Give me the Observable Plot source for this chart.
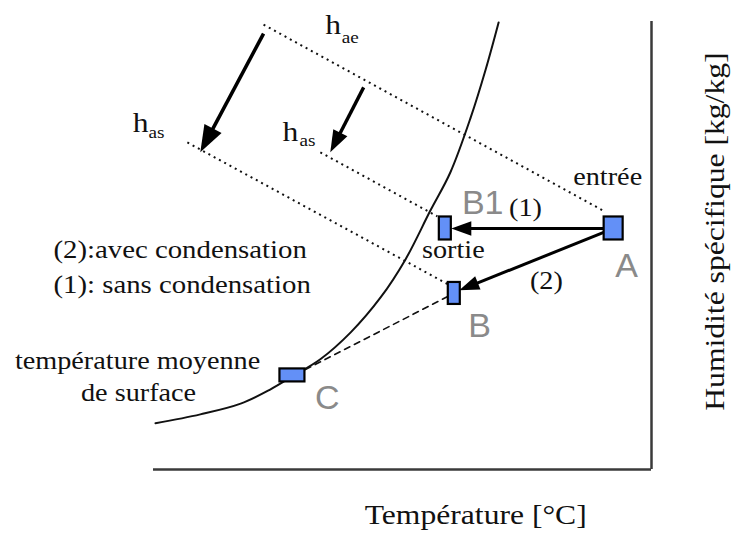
<!DOCTYPE html>
<html><head><meta charset="utf-8">
<script src="https://cdn.jsdelivr.net/npm/d3@7"></script>
<script src="https://cdn.jsdelivr.net/npm/@observablehq/plot@0.6"></script>
<style>html,body{margin:0;padding:0;background:#fff}</style>
</head><body><div id="chart"></div>
<script>
// ---------------- data (schematic units: temperature 0–100, humidity 0–100) ----------------
// saturation curve
const curveT = [0.4, 9.4, 17.5, 23.5, 27.9, 33.5, 39.6, 45.6, 50.6, 55.6, 59.6, 63.7, 66.7, 69.3];
const curveH = [10.3, 12.3, 14.7, 17.9, 20.8, 24.6, 30.6, 38.4, 46.9, 57.8, 66.3, 78.6, 89.3, 99.8];

// air states
const stateNames = ["A", "B1", "B", "C"];
const stateT = [92.4, 58.6, 60.4, 27.9];
const stateH = [53.8, 53.8, 39.3, 21.0];
const stateLabelT = [95.0, 66.1, 65.5, 34.9];
const stateLabelH = [42.9, 57.1, 29.5, 13.4];

// iso-enthalpy (dotted) lines
const isoT1 = [22.1, 6.8, 33.5];
const isoH1 = [99.3, 73.0, 70.8];
const isoT2 = [90.6, 59.2, 57.0];
const isoH2 = [57.6, 41.3, 56.5];

// dashed line C -> B
const dashT = [30.5, 59.4];
const dashH = [22.3, 38.8];

// arrows
const arrowT1 = [22.1, 42.2, 92.4, 92.4];
const arrowH1 = [97.3, 85.3, 53.8, 53.8];
const arrowT2 = [9.4, 35.5, 59.8, 61.4];
const arrowH2 = [70.8, 70.8, 53.8, 40.0];

// enthalpy labels h + subscript
const hSub = ["ae", "as", "as"];
const hT = [36.1, -2.6, 27.5];
const hH = [97.3, 75.4, 73.4];
const hSubT = [37.8, -1.0, 29.3];
const hSubH = [95.3, 74.1, 72.1];

// notes
const leftNotes = ["(2):avec condensation", "(1): sans condensation"];
const leftNoteT = [-20.1, -20.1];
const leftNoteH = [47.1, 39.5];
const notes = ["température moyenne", "de surface", "sortie", "entrée", "(1)", "(2)"];
const noteT = [-3.2, -3.0, 60.2, 91.2, 74.7, 78.9];
const noteH = [22.5, 15.4, 47.3, 63.4, 56.5, 40.4];

// axis titles
const xTitle = "Température [°C]";
const yTitle = "Humidité spécifique [kg/kg]";
const xTitleT = 64.7, xTitleH = -12.1;
const yTitleT = 114.5, yTitleH = 53.1;

// ---------------- styles ----------------
const X_RANGE = [153, 651], Y_RANGE = [469, 21];
const xs = d3.scaleLinear([0, 100], X_RANGE);
const ys = d3.scaleLinear([0, 100], Y_RANGE);
const boxW = {A: 19, B1: 12, B: 12, C: 25};
const boxH = {A: 23, B1: 23, B: 22, C: 13};
const headLen = [27, 22, 20, 20];
const shaftW = [3.6, 3.4, 3, 3];
const SERIF = "'Liberation Serif', 'Times New Roman', serif";
const SANS = "'Liberation Sans', Arial, sans-serif";

// ---------------- tables ----------------
const curve = curveT.map((t, i) => ({t, h: curveH[i]}));
const states = stateNames.map((name, i) => ({name, t: stateT[i], h: stateH[i], lt: stateLabelT[i], lh: stateLabelH[i]}));
const isos = isoT1.map((t, i) => ({t1: t, h1: isoH1[i], t2: isoT2[i], h2: isoH2[i]}));
const dash = dashT.map((t, i) => ({t, h: dashH[i]}));
const arrows = arrowT1.map((t, i) => {
  const px1 = xs(t), py1 = ys(arrowH1[i]), px2 = xs(arrowT2[i]), py2 = ys(arrowH2[i]);
  const ang = Math.atan2(py2 - py1, px2 - px1);
  const L = headLen[i];
  const ex = px2 - Math.cos(ang) * L * 0.5, ey = py2 - Math.sin(ang) * L * 0.5;
  return {t1: t, h1: arrowH1[i], t2: arrowT2[i], h2: arrowH2[i], te: xs.invert(ex), he: ys.invert(ey), ang, L, w: shaftW[i]};
});
function headSymbol(ang, L) {
  const W = 0.72 * L;
  const c = Math.cos(ang), s = Math.sin(ang);
  const bx = -L * c, by = -L * s;
  const nx = -s * W / 2, ny = c * W / 2;
  return {draw(ctx) {
    ctx.moveTo(0, 0);
    ctx.lineTo(bx + nx, by + ny);
    ctx.lineTo(bx - nx, by - ny);
    ctx.closePath();
  }};
}
const hLabels = hSub.map((s, i) => ({s, t: hT[i], h: hH[i], st: hSubT[i], sh: hSubH[i]}));
const leftTab = leftNotes.map((text, i) => ({text, t: leftNoteT[i], h: leftNoteH[i]}));
const noteTab = notes.map((text, i) => ({text, t: noteT[i], h: noteH[i]}));

const kx = (X_RANGE[1] - X_RANGE[0]) / 100, ky = (Y_RANGE[0] - Y_RANGE[1]) / 100;

const chart = Plot.plot({
  width: 734,
  height: 534,
  margin: 0,
  x: {domain: [0, 100], range: X_RANGE, axis: null},
  y: {domain: [0, 100], range: Y_RANGE, axis: null},
  marks: [
    Plot.ruleY([0], {x1: 0, x2: 100, stroke: "#3a3a3a", strokeWidth: 2.5}),
    Plot.ruleX([100], {y1: 0, y2: 100, stroke: "#3a3a3a", strokeWidth: 2.5}),
    Plot.line(curve, {x: "t", y: "h", curve: "catmull-rom", stroke: "#111", strokeWidth: 2}),
    Plot.link(isos, {x1: "t1", y1: "h1", x2: "t2", y2: "h2", stroke: "#111", strokeWidth: 2, strokeDasharray: "2,4"}),
    Plot.line(dash, {x: "t", y: "h", stroke: "#111", strokeWidth: 1.6, strokeDasharray: "6,5"}),
    ...arrows.map(a => Plot.link([a], {x1: "t1", y1: "h1", x2: "te", y2: "he", stroke: "#000", strokeWidth: a.w})),
    ...arrows.map(a => Plot.dot([a], {x: "t2", y: "h2", symbol: headSymbol(a.ang, a.L), fill: "#000", stroke: "none", r: 5})),
    Plot.rect(states, {
      x1: d => d.t - boxW[d.name] / 2 / kx, x2: d => d.t + boxW[d.name] / 2 / kx,
      y1: d => d.h - boxH[d.name] / 2 / ky, y2: d => d.h + boxH[d.name] / 2 / ky,
      fill: "#6390f7", stroke: "#000", strokeWidth: 2.2
    }),
    Plot.text(states, {x: "lt", y: "lh", text: "name", fontFamily: SANS, fontSize: 34, fill: "#8a8a8a", lineAnchor: "bottom", textAnchor: "middle"}),
    Plot.text(hLabels, {x: "t", y: "h", text: () => "h", fontFamily: SERIF, fontSize: 28, fill: "#111", lineAnchor: "bottom", textAnchor: "middle"}),
    Plot.text(hLabels, {x: "st", y: "sh", text: "s", fontFamily: SERIF, fontSize: 17, fill: "#111", lineAnchor: "bottom", textAnchor: "start"}),
    Plot.text(leftTab, {x: "t", y: "h", text: "text", fontFamily: SERIF, fontSize: 25.5, fill: "#111", lineAnchor: "bottom", textAnchor: "start"}),
    Plot.text(noteTab, {x: "t", y: "h", text: "text", fontFamily: SERIF, fontSize: 25, fill: "#111", lineAnchor: "bottom", textAnchor: "middle"}),
    Plot.text([xTitle], {x: xTitleT, y: xTitleH, text: d => d, fontFamily: SERIF, fontSize: 28, fill: "#111", lineAnchor: "bottom", textAnchor: "middle"}),
    Plot.text([yTitle], {x: yTitleT, y: yTitleH, text: d => d, rotate: -90, fontFamily: SERIF, fontSize: 28, fill: "#111", lineAnchor: "bottom", textAnchor: "middle"})
  ]
});

// horizontally widen the serif glyphs as in the reference rendering
const STRETCH = 1.13;
chart.querySelectorAll('g[aria-label="text"]').forEach(g => {
  if (!/Serif/.test(g.getAttribute("font-family") || "")) return;
  g.querySelectorAll("text").forEach(t => {
    const tr = t.getAttribute("transform");
    if (tr) t.setAttribute("transform", tr + ` scale(${STRETCH},1)`);
    else {
      const x = +t.getAttribute("x") || 0, y = +t.getAttribute("y") || 0;
      t.removeAttribute("x"); t.removeAttribute("y");
      t.setAttribute("transform", `translate(${x},${y}) scale(${STRETCH},1)`);
    }
  });
});

document.getElementById("chart").appendChild(chart);
</script>
</body></html>
